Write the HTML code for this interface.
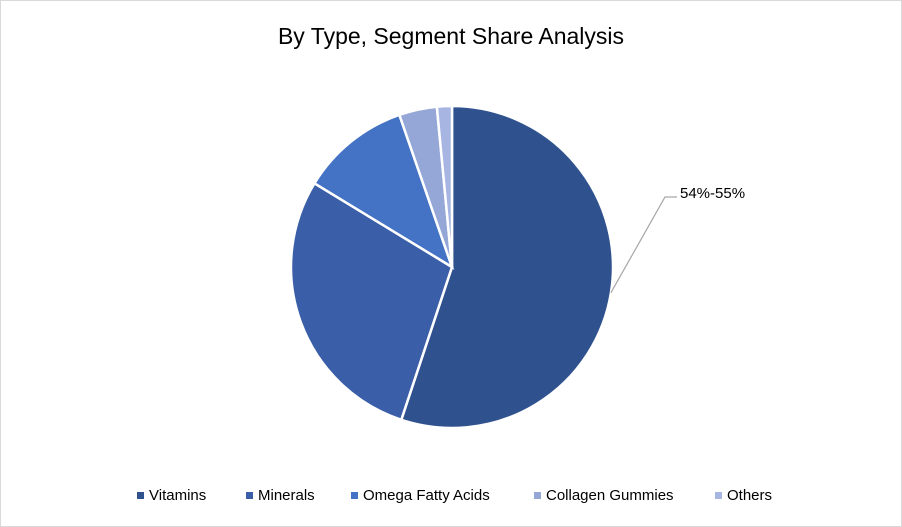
<!DOCTYPE html>
<html><head><meta charset="utf-8"><style>
body{margin:0;background:#fff;}
#c{position:relative;width:900px;height:525px;border:1px solid #d9d9d9;background:#fff;font-family:"Liberation Sans",sans-serif;overflow:hidden}
.t{position:absolute;left:0;width:900px;top:22px;text-align:center;font-size:23px;color:#000}
.lg{position:absolute;top:486px;font-size:15px;color:#000;white-space:nowrap}
.lg span.sq{display:inline-block;width:7px;height:7px;margin-right:5px;vertical-align:1px}
</style></head><body>
<div id="c">
<div class="t">By Type, Segment Share Analysis</div>
<svg id="pie" width="900" height="525" style="position:absolute;left:0;top:0"></svg>
<div id="legend"></div>
</div>
<script>
const categories=["Vitamins","Minerals","Omega Fatty Acids","Collagen Gummies","Others"];
const shares=[55.1,28.6,11.0,3.8,1.5];
const colors=["#2f528f","#3a5fa8","#4472c4","#94a7d7","#a6b5e1"];
const labelText="54%-55%";
const legendX=[136,245,350,533,714];
const ns="http://www.w3.org/2000/svg";
const svg=document.getElementById('pie');
const cx=451,cy=266,r=161;
const total=shares.reduce((a,b)=>a+b,0);
function pt(a,rr){return [cx+rr*Math.sin(a),cy-rr*Math.cos(a)];}
let a0=0;
shares.forEach((v,i)=>{
  const a1=a0+v/total*2*Math.PI;
  const p0=pt(a0,r),p1=pt(a1,r);
  const large=(a1-a0)>Math.PI?1:0;
  const p=document.createElementNS(ns,'path');
  p.setAttribute('d',`M${cx},${cy}L${p0[0]},${p0[1]}A${r},${r} 0 ${large} 1 ${p1[0]},${p1[1]}Z`);
  p.setAttribute('fill',colors[i]);
  p.setAttribute('stroke','#fff');
  p.setAttribute('stroke-width','2.5');
  
  
  svg.appendChild(p);
  if(i===0){
    const mid=(a0+a1)/2;
    const e=pt(mid,r);
    const l=document.createElementNS(ns,'polyline');
    l.setAttribute('points',`${e[0]},${e[1]} 664,196 676,196`);
    l.setAttribute('fill','none');l.setAttribute('stroke','#a6a6a6');l.setAttribute('stroke-width','1.2');
    
    
    svg.appendChild(l);
    const t=document.createElementNS(ns,'text');
    t.setAttribute('x',679);t.setAttribute('y',197);
    t.setAttribute('font-size','15');t.setAttribute('font-family','Liberation Sans, sans-serif');
    t.textContent=labelText;
    
    
    svg.appendChild(t);
  }
  a0=a1;
});
const lg=document.getElementById('legend');
categories.forEach((c,i)=>{
  const d=document.createElement('div');
  d.className='lg';d.style.left=legendX[i]+'px';
  
  
  d.innerHTML=`<span class="sq" style="background:${colors[i]}"></span>${c}`;
  lg.appendChild(d);
});
</script>
</body></html>
